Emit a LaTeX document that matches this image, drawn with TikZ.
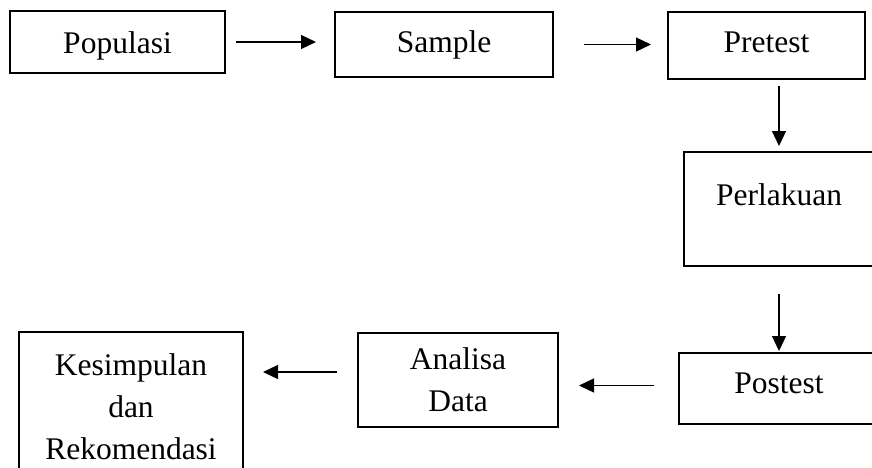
\documentclass[tikz,border=0pt]{standalone}
\usepackage{fontspec}
\setmainfont{Liberation Serif}
\usetikzlibrary{arrows.meta}
\begin{document}
\begin{tikzpicture}[x=1pt, y=-1pt,
    box/.style={draw, line width=2pt, inner sep=0pt, align=center,
      font=\fontsize{31.5}{42}\selectfont},
    flow/.style={-{Triangle[length=15pt,width=14pt]}, line width=1.2pt}]
  \useasboundingbox (0,0) rectangle (872,467);
  \clip (0,0) rectangle (872,467);
  % top row
  \node[box, minimum width=215pt, minimum height=62pt, text height=22pt, text depth=0pt] (pop) at (117.5,42) {Populasi};
  \node[box, minimum width=218pt, minimum height=65pt, text height=21pt, text depth=5pt] (sam) at (444,44.5) {Sample};
  \node[box, minimum width=197pt, minimum height=67pt, text height=21pt, text depth=7pt] (pre) at (766.5,45.5) {Pretest};
  % right column
  \node[box, minimum width=190pt, minimum height=114pt, text height=23pt, text depth=31pt] (per) at (779,209) {Perlakuan};
  \node[box, minimum width=200pt, minimum height=71pt, text height=21pt, text depth=12pt] (post) at (779,388.5) {Postest};
  % bottom row
  \node[box, minimum width=200pt, minimum height=94pt] (ana) at (458,380) {Analisa\\Data};
  \node[box, minimum width=224pt, minimum height=150pt] (kes) at (131,407) {Kesimpulan\\dan\\Rekomendasi};
  % arrows
  \draw[flow, shorten <=10pt, shorten >=18pt] (pop.east) -- (pop.east -| sam.west);
  \draw[flow, shorten <=30pt, shorten >=16pt] (sam.east) -- (sam.east -| pre.west);
  \draw[flow, shorten <=6pt, shorten >=5pt] (per.north |- pre.south) -- (per.north);
  \draw[flow, shorten <=27pt, shorten >=1pt] (per.south) -- (post.north);
  \draw[flow, shorten <=24pt, shorten >=20pt] ([yshift=3pt]post.west) -- ([yshift=3pt]post.west -| ana.east);
  \draw[flow, shorten <=20pt, shorten >=19pt] ([yshift=8pt]ana.west) -- ([yshift=8pt]ana.west -| kes.east);
\end{tikzpicture}
\end{document}
